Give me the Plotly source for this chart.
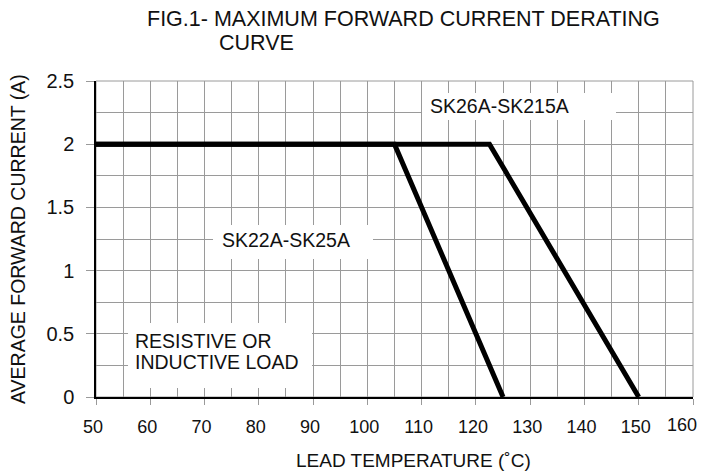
import plotly.graph_objects as go

# derating curves: lead temperature (C) vs average forward current (A)
temp_low = [50, 105, 125]
curr_low = [2, 2, 0]
temp_high = [50, 122.5, 150]
curr_high = [2, 2, 0]

x_ticks = [50, 60, 70, 80, 90, 100, 110, 120, 130, 140, 150, 160]
x_tick_text = ["50", "60", "70", "80", "90", "100", "110", "120", "130", "140", "150", "160"]
y_ticks = [0, 0.5, 1, 1.5, 2, 2.5]
y_tick_text = ["0", "0.5", "1", "1.5", "2", "2.5"]

FONT = "Liberation Sans, Arial, sans-serif"
GRID = "#9a9a9a"
INK = "#111111"

# the page body keeps its default 8px margin, so the figure is 8px smaller
W, H = 698, 466
L, T, R, B = 88, 73, 13, 77
PW, PH = W - L - R, H - T - B

fig = go.Figure()
for xs, ys in [(temp_low, curr_low), (temp_high, curr_high)]:
    fig.add_trace(go.Scatter(x=xs, y=ys, mode="lines",
                             line=dict(color="black", width=5), showlegend=False))

# white label boxes that blank out the grid behind the texts
boxes = [
    (110.07, 145.81, 2.191, 2.405),
    (71.56, 101.04, 1.092, 1.361),
    (55.9, 89.8, 0.071, 0.585),
]
for x0, x1, y0, y1 in boxes:
    fig.add_shape(type="rect", x0=x0, x1=x1, y0=y0, y1=y1,
                  fillcolor="white", line=dict(width=0), layer="above")

labels = [
    (111.17, 2.302, "SK26A-SK215A"),
    (72.85, 1.242, "SK22A-SK25A"),
    (56.82, 0.443, "RESISTIVE OR"),
    (56.82, 0.277, "INDUCTIVE LOAD"),
]
for x, y, txt in labels:
    fig.add_annotation(x=x, y=y, text=txt, showarrow=False, xanchor="left",
                       yanchor="middle", font=dict(family=FONT, size=19.5, color=INK))

# title, two lines, second one indented
title_lines = [
    ((137 - L) / PW, 1 + (T - 11) / PH, "FIG.1- MAXIMUM FORWARD CURRENT DERATING"),
    ((209 - L) / PW, 1 + (T - 35) / PH, "CURVE"),
]
for x, y, txt in title_lines:
    fig.add_annotation(xref="paper", yref="paper", x=x, y=y, text=txt,
                       showarrow=False, xanchor="left", yanchor="middle",
                       font=dict(family=FONT, size=21.5, color=INK))

# axis titles
fig.add_annotation(xref="paper", yref="paper", x=(405 - L) / PW, y=-63 / PH,
                   text="LEAD TEMPERATURE (˚C)", showarrow=False,
                   xanchor="center", yanchor="middle",
                   font=dict(family=FONT, size=19, color=INK))
fig.add_annotation(xref="paper", yref="paper", x=(10 - L) / PW, y=0.5,
                   text="AVERAGE FORWARD CURRENT (A)", showarrow=False, textangle=-90,
                   xanchor="center", yanchor="middle",
                   font=dict(family=FONT, size=19.5, color=INK))

# last x tick label sits on the right edge, drawn right-aligned so it is not clipped
fig.add_annotation(x=x_ticks[-1], y=0, text=x_tick_text[-1], showarrow=False,
                   xanchor="right", yanchor="middle", xshift=6, yshift=-28,
                   font=dict(family=FONT, size=18, color=INK))

fig.update_layout(
    width=W, height=H,
    margin=dict(l=L, r=R, t=T, b=B, autoexpand=False),
    paper_bgcolor="white", plot_bgcolor="white",
    font=dict(family=FONT, size=18, color=INK),
)
fig.update_xaxes(range=[50, 160], tickvals=x_ticks, ticktext=x_tick_text[:-1] + [""],
                 showgrid=True, gridcolor=GRID,
                 gridwidth=1, minor=dict(dtick=5, tick0=50, showgrid=True,
                                         gridcolor=GRID, gridwidth=1),
                 ticks="outside", ticklen=6, tickcolor=GRID, ticklabelstandoff=7,
                 ticklabelshift=-3,
                 tickfont=dict(size=18), ticklabeloverflow="allow",
                 showline=True, linecolor="black", linewidth=1.5,
                 zeroline=False, automargin=False)
fig.update_yaxes(range=[0, 2.5], tickvals=y_ticks, ticktext=y_tick_text,
                 showgrid=True, gridcolor=GRID, gridwidth=1,
                 minor=dict(dtick=0.25, tick0=0, showgrid=True, gridcolor=GRID, gridwidth=1),
                 ticks="outside", ticklen=8, tickcolor=GRID, ticklabelstandoff=8,
                 tickfont=dict(size=20), ticklabeloverflow="allow",
                 showline=True, linecolor="black", linewidth=1.5,
                 zeroline=False, automargin=False)
# grey frame on the top and right edges
fig.add_shape(type="rect", xref="paper", yref="paper", x0=0, y0=0, x1=1, y1=1,
              line=dict(color=GRID, width=1), layer="below")

fig.write_html("out.html")
